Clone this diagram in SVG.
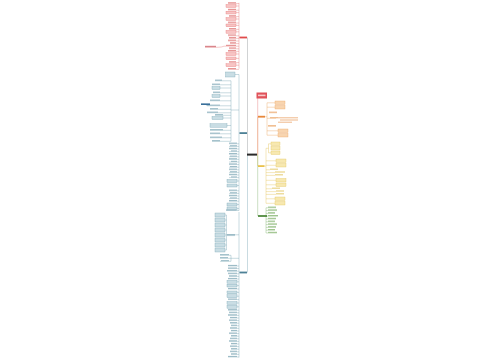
<svg xmlns="http://www.w3.org/2000/svg" width="500" height="360" viewBox="0 0 500 360">
<style>
.rb{fill:#f7c4c4;stroke:#e57373;stroke-width:.35}
.rs{fill:#e69696}
.tb{fill:#c9dde4;stroke:#76a3b2;stroke-width:.35}
.ts{fill:#9dbcc7}
.ob{fill:#f8d5b0;stroke:#eba25e;stroke-width:.35}
.os{fill:#efb88a}
.yb{fill:#f7e8b0;stroke:#e3c256;stroke-width:.35}
.ys{fill:#e9d488}
.gs{fill:#9fc48e}
.c{fill:none;stroke-width:.4}
.cr{stroke:#e57373}.ct{stroke:#76a3b2}.co{stroke:#eba25e}.cy{stroke:#e3c256}.cg{stroke:#7fb06c}.ck{stroke:#8a8f92}
</style>
<rect width="500" height="360" fill="#ffffff"/>
<g id="connectors">
  <path class="c ck" d="M247,154.6 H247.5 V37.5"/>
  <path class="c ct" d="M247.5,154.6 V272.5"/>
  <path class="c cr" d="M257,154.6 H257.7 V95.5"/>
  <path class="c co" d="M257.7,154.6 V116.7"/>
  <path class="c cy" d="M257.7,154.6 V166.1"/>
  <path class="c cg" d="M257.7,154.6 V216"/>
  <path class="c cr" d="M239.5,37.5 H239 M239,2.8 V68.6"/>
  <path class="c cr" d="M228,3.6 H239 M236,6 H239 M228,10.2 H239 M236,12.6 H239 M229,16.6 H239 M236,19 H239 M228,23 H239 M236,25.4 H239 M229,29.4 H239 M236,31.8 H239 M228,35.8 H239 M229,38.4 H239 M228,41 H239 M230,43.6 H239 M226,46.2 H239 M229,48.8 H239 M228,51.4 H239 M236,54 H239 M236,58.4 H239 M229,62.6 H239 M236,65.2 H239 M228,69.4 H239"/>
  <path class="c cr" d="M205,47.3 H217 Q222,47.3 224,46.2 H226"/>
  <path class="c ct" d="M239.5,133.1 H239 M239,74.5 V210.5"/>
  <path class="c ct" d="M235,74.5 H239"/>
  <path class="c ct" d="M231,80.8 V141.3 M231,110 H239"/>
  <path class="c ct" d="M215,80.8 H231 M212,84.8 H231 M220,88 H231 M213,92.8 H231 M220,96 H231 M210,100.8 H231 M207,105.8 H231 M210,109.3 H231 M207,112.8 H231 M215,115.3 H231 M223,118 H231 M227,125.5 H231 M210,130.3 H231 M210,133.8 H231 M210,137.8 H231 M212,141.3 H231"/>
  <path class="c ct" d="M201,104.2 H204 Q206,104.2 207,105.8"/>
  <path class="c ct" d="M229,143.8 H239 M229,146.4 H239 M229,149 H239 M229,151.6 H239 M229,154.2 H239 M229,156.8 H239 M229,159.4 H239 M229,162 H239 M229,164.6 H239 M229,167.2 H239 M229,169.8 H239 M229,172.4 H239 M229,175 H239 M229,177.6 H239 M237,181 H239 M237,185.5 H239 M229,190.8 H239 M229,193.4 H239 M229,196 H239 M229,198.6 H239 M229,201.2 H239 M237,204.5 H239 M237,208.5 H239 M226,210.5 H239"/>
  <path class="c ct" d="M239.5,272.5 H239 M239,212 V357.5"/>
  <path class="c ct" d="M225,215 H226.5 M225,220 H226.5 M225,225 H226.5 M225,230 H226.5 M225,235 H226.5 M225,240 H226.5 M225,245 H226.5 M225,250 H226.5 M226.5,215 V250 M226.5,234.8 H239 M227,235.6 H235"/>
  <path class="c ct" d="M220,255.3 H231 M220,258.3 H231 M220,261.3 H231 M231,255.3 V261.3 M231,258.3 H239"/>
  <path class="c ct" d="M228,266 H239 M228,268.6 H239 M227,271.2 H239 M228,273.8 H239 M229,276.4 H239 M228,279 H239 M237,281.8 H239 M237,285.6 H239 M228,289 H239 M237,292.4 H239 M237,296.2 H239 M228,299.6 H239 M237,303 H239 M237,306.8 H239 M228,310.2 H239 M229,312.8 H239 M228,315.4 H239 M230,318 H239 M229,320.6 H239 M230,323.2 H239 M231,325.8 H239 M230,328.4 H239 M231,331 H239 M229,333.6 H239 M231,336.2 H239 M230,338.8 H239 M229,341.4 H239 M231,344 H239 M230,346.6 H239 M231,349.2 H239 M230,351.8 H239 M231,354.4 H239 M228,357 H239"/>
  <path class="c co" d="M265,116.7 H267 M267,102.8 V135.2"/>
  <path class="c co" d="M267,102.8 H275 M267,107.2 H275 M269,112.8 H277 M267,118.3 H276 M268,126.3 H276 M267,130.8 H278 M267,135.2 H278"/>
  <path class="c cy" d="M264.5,166.1 H266 M266,148.3 V203.3"/>
  <path class="c cy" d="M266,148.3 H268.5 M268.5,143.8 V152.8 M268.5,143.8 H271 M268.5,152.8 H271"/>
  <path class="c cy" d="M266,160.8 H276 M266,165.3 H276 M270,169.8 H266 M266,172.6 H275 M266,175.4 H275 M266,180.3 H276 M266,184.8 H276 M266,188.8 H272 M266,191.6 H276 M266,194.4 H276 M266,198.8 H275 M266,203.3 H275"/>
  <path class="c cg" d="M267,216 H266 M266,207.8 V233"/>
  <path class="c cg" d="M266,207.8 H276 M266,210.6 H277 M266,213.4 H275 M266,216.2 H278 M266,219 H276 M266,221.8 H275 M266,224.6 H277 M266,227.4 H276 M266,230.2 H275 M266,233 H277"/>
</g>
<g id="root"><rect x="247" y="153.6" width="10" height="2" fill="#2a2a2a"/></g>
<g id="title"><rect x="256.5" y="92.5" width="10.5" height="6" fill="#e0525a"/><rect x="258" y="94.6" width="7.5" height="1.6" fill="#f8c9c9"/></g>
<g id="branch-red">
  <rect x="239.5" y="36.6" width="7.5" height="1.8" fill="#e04b4b"/>
  <rect class="rs" x="228" y="2.2" width="8" height="1.2"/>
  <rect class="rb" x="226" y="4.6" width="10" height="2.8"/>
  <rect class="rs" x="228" y="8.8" width="8" height="1.2"/>
  <rect class="rb" x="226" y="11.2" width="10" height="2.8"/>
  <rect class="rs" x="229" y="15.2" width="7" height="1.2"/>
  <rect class="rb" x="226" y="17.6" width="10" height="2.8"/>
  <rect class="rs" x="228" y="21.6" width="8" height="1.2"/>
  <rect class="rb" x="226" y="24" width="10" height="2.8"/>
  <rect class="rs" x="229" y="28" width="7" height="1.2"/>
  <rect class="rb" x="226" y="30.4" width="10" height="2.8"/>
  <rect class="rs" x="228" y="34.4" width="8" height="1.2"/>
  <rect class="rs" x="229" y="37" width="7" height="1.2"/>
  <rect class="rs" x="228" y="39.6" width="8" height="1.2"/>
  <rect class="rs" x="230" y="42.2" width="6" height="1.2"/>
  <rect class="rs" x="226" y="44.8" width="10" height="1.2"/>
  <rect class="rs" x="229" y="47.4" width="7" height="1.2"/>
  <rect class="rs" x="228" y="50" width="8" height="1.2"/>
  <rect class="rb" x="226" y="52.6" width="10" height="2.8"/>
  <rect class="rb" x="226" y="57" width="10" height="2.8"/>
  <rect class="rs" x="229" y="61.2" width="7" height="1.2"/>
  <rect class="rb" x="226" y="63.8" width="10" height="2.8"/>
  <rect class="rs" x="228" y="68" width="8" height="1.2"/>
  <rect x="205" y="45.8" width="11" height="1.4" fill="#d9868c"/>
</g>
<g id="branch-teal-upper">
  <rect x="239.5" y="132.2" width="7.5" height="1.8" fill="#4d8196"/>
  <rect class="tb" x="225.5" y="72" width="9.5" height="5"/>
  <rect class="ts" x="215" y="79.6" width="7" height="1.2"/>
  <rect class="ts" x="212" y="83.6" width="8" height="1.2"/>
  <rect class="tb" x="212" y="86.5" width="8" height="3"/>
  <rect class="ts" x="213" y="91.6" width="7" height="1.2"/>
  <rect class="tb" x="212" y="94.5" width="8" height="3"/>
  <rect class="ts" x="210" y="99.6" width="10" height="1.2"/>
  <rect class="ts" x="207" y="104.6" width="13" height="1.2"/>
  <rect class="ts" x="210" y="108.1" width="8" height="1.2"/>
  <rect class="ts" x="207" y="111.6" width="11" height="1.2"/>
  <rect class="ts" x="215" y="114.1" width="8" height="1.2"/>
  <rect class="tb" x="212" y="116.5" width="11" height="3"/>
  <rect class="tb" x="210" y="123.8" width="17" height="3.4"/>
  <rect class="ts" x="210" y="129.1" width="13" height="1.2"/>
  <rect class="ts" x="210" y="132.6" width="10" height="1.2"/>
  <rect class="ts" x="210" y="136.6" width="12" height="1.2"/>
  <rect class="ts" x="212" y="140.1" width="8" height="1.2"/>
  <rect x="201" y="103.4" width="9" height="1.6" fill="#3a6f9a"/>
  <rect class="ts" x="229" y="142.6" width="8" height="1.1"/>
  <rect class="ts" x="230" y="145.2" width="7" height="1.1"/>
  <rect class="ts" x="229" y="147.8" width="8" height="1.1"/>
  <rect class="ts" x="231" y="150.4" width="6" height="1.1"/>
  <rect class="ts" x="229" y="153" width="8" height="1.1"/>
  <rect class="ts" x="230" y="155.6" width="7" height="1.1"/>
  <rect class="ts" x="229" y="158.2" width="8" height="1.1"/>
  <rect class="ts" x="231" y="160.8" width="6" height="1.1"/>
  <rect class="ts" x="229" y="163.4" width="8" height="1.1"/>
  <rect class="ts" x="230" y="166" width="7" height="1.1"/>
  <rect class="ts" x="229" y="168.6" width="8" height="1.1"/>
  <rect class="ts" x="230" y="171.2" width="7" height="1.1"/>
  <rect class="ts" x="229" y="173.8" width="8" height="1.1"/>
  <rect class="ts" x="231" y="176.4" width="6" height="1.1"/>
  <rect class="tb" x="227" y="179.5" width="10" height="3"/>
  <rect class="tb" x="227" y="184" width="10" height="3"/>
  <rect class="ts" x="229" y="189.6" width="8" height="1.1"/>
  <rect class="ts" x="230" y="192.2" width="7" height="1.1"/>
  <rect class="ts" x="229" y="194.8" width="8" height="1.1"/>
  <rect class="ts" x="230" y="197.4" width="7" height="1.1"/>
  <rect class="ts" x="229" y="200" width="8" height="1.1"/>
  <rect class="tb" x="227" y="203" width="10" height="3"/>
  <rect class="tb" x="227" y="207" width="10" height="3"/>
  <rect class="ts" x="226" y="209.4" width="10" height="1.1"/>
</g>
<g id="branch-teal-lower">
  <rect x="239.5" y="271.6" width="7.5" height="1.8" fill="#4d8196"/>
  <rect class="tb" x="215" y="213" width="10" height="4"/>
  <rect class="tb" x="215" y="218" width="10" height="4"/>
  <rect class="tb" x="215" y="223" width="10" height="4"/>
  <rect class="tb" x="215" y="228" width="10" height="4"/>
  <rect class="tb" x="215" y="233" width="10" height="4"/>
  <rect class="tb" x="215" y="238" width="10" height="4"/>
  <rect class="tb" x="215" y="243" width="10" height="4"/>
  <rect class="tb" x="215" y="248" width="10" height="4"/>
  <rect class="ts" x="227" y="234" width="8" height="1.4"/>
  <rect class="ts" x="220" y="254.1" width="9" height="1.1"/>
  <rect class="ts" x="220" y="257.1" width="8" height="1.1"/>
  <rect class="ts" x="221" y="260.1" width="8" height="1.1"/>
  <rect class="ts" x="228" y="264.9" width="9" height="1.1"/>
  <rect class="ts" x="228" y="267.5" width="9" height="1.1"/>
  <rect class="ts" x="227" y="270.1" width="10" height="1.1"/>
  <rect class="ts" x="228" y="272.7" width="9" height="1.1"/>
  <rect class="ts" x="229" y="275.3" width="8" height="1.1"/>
  <rect class="ts" x="228" y="277.9" width="9" height="1.1"/>
  <rect class="tb" x="227" y="280.4" width="10" height="2.8"/>
  <rect class="tb" x="227" y="284.2" width="10" height="2.8"/>
  <rect class="ts" x="228" y="287.9" width="9" height="1.1"/>
  <rect class="tb" x="227" y="291" width="10" height="2.8"/>
  <rect class="tb" x="227" y="294.8" width="10" height="2.8"/>
  <rect class="ts" x="228" y="298.5" width="9" height="1.1"/>
  <rect class="tb" x="227" y="301.6" width="10" height="2.8"/>
  <rect class="tb" x="227" y="305.4" width="10" height="2.8"/>
  <rect class="ts" x="228" y="309.1" width="9" height="1.1"/>
  <rect class="ts" x="229" y="311.7" width="8" height="1.1"/>
  <rect class="ts" x="228" y="314.3" width="9" height="1.1"/>
  <rect class="ts" x="230" y="316.9" width="7" height="1.1"/>
  <rect class="ts" x="229" y="319.5" width="8" height="1.1"/>
  <rect class="ts" x="230" y="322.1" width="7" height="1.1"/>
  <rect class="ts" x="231" y="324.7" width="6" height="1.1"/>
  <rect class="ts" x="230" y="327.3" width="7" height="1.1"/>
  <rect class="ts" x="231" y="329.9" width="6" height="1.1"/>
  <rect class="ts" x="229" y="332.5" width="8" height="1.1"/>
  <rect class="ts" x="231" y="335.1" width="6" height="1.1"/>
  <rect class="ts" x="230" y="337.7" width="7" height="1.1"/>
  <rect class="ts" x="229" y="340.3" width="8" height="1.1"/>
  <rect class="ts" x="231" y="342.9" width="6" height="1.1"/>
  <rect class="ts" x="230" y="345.5" width="7" height="1.1"/>
  <rect class="ts" x="231" y="348.1" width="6" height="1.1"/>
  <rect class="ts" x="230" y="350.7" width="7" height="1.1"/>
  <rect class="ts" x="231" y="353.3" width="6" height="1.1"/>
  <rect class="ts" x="228" y="355.9" width="9" height="1.1"/>
</g>
<g id="branch-orange">
  <rect x="258" y="115.8" width="7" height="1.8" fill="#e8883a"/>
  <rect class="ob" x="275" y="101" width="10" height="3.5"/>
  <rect class="ob" x="275" y="105.5" width="10" height="3.5"/>
  <rect class="os" x="269" y="111.6" width="8" height="1.2"/>
  <rect class="os" x="270" y="117.1" width="8" height="1.2"/>
  <rect class="os" x="278" y="117.3" width="20" height="1"/>
  <rect class="os" x="280" y="119.5" width="18" height="1"/>
  <rect class="os" x="278" y="121.7" width="14" height="1"/>
  <rect class="os" x="268" y="125.1" width="8" height="1.2"/>
  <rect class="ob" x="278" y="129" width="10" height="3.5"/>
  <rect class="ob" x="278" y="133.5" width="10" height="3.5"/>
</g>
<g id="branch-yellow">
  <rect x="258" y="165.2" width="6.5" height="1.8" fill="#e9c14a"/>
  <rect class="yb" x="271" y="142" width="9" height="3.5"/>
  <rect class="yb" x="271" y="146.5" width="9" height="3.5"/>
  <rect class="yb" x="271" y="151" width="9" height="3.5"/>
  <rect class="yb" x="276" y="159" width="10" height="3.5"/>
  <rect class="yb" x="276" y="163.5" width="10" height="3.5"/>
  <rect class="ys" x="270" y="168.6" width="8" height="1.2"/>
  <rect class="ys" x="275" y="171.4" width="10" height="1.2"/>
  <rect class="ys" x="275" y="174.2" width="8" height="1.2"/>
  <rect class="yb" x="276" y="178.5" width="10" height="3.5"/>
  <rect class="yb" x="276" y="183" width="10" height="3.5"/>
  <rect class="ys" x="272" y="187.6" width="8" height="1.2"/>
  <rect class="ys" x="276" y="190.4" width="8" height="1.2"/>
  <rect class="ys" x="276" y="193.2" width="8" height="1.2"/>
  <rect class="yb" x="275" y="197" width="10" height="3.5"/>
  <rect class="yb" x="275" y="201.5" width="10" height="3.5"/>
</g>
<g id="branch-green">
  <rect x="258" y="215.1" width="9" height="1.8" fill="#4f8a3c"/>
  <rect class="gs" x="268" y="206.6" width="8" height="1.1"/>
  <rect class="gs" x="268" y="209.4" width="9" height="1.1"/>
  <rect class="gs" x="268" y="212.2" width="7" height="1.1"/>
  <rect class="gs" x="268" y="215" width="10" height="1.1"/>
  <rect class="gs" x="268" y="217.8" width="8" height="1.1"/>
  <rect class="gs" x="268" y="220.6" width="7" height="1.1"/>
  <rect class="gs" x="268" y="223.4" width="9" height="1.1"/>
  <rect class="gs" x="268" y="226.2" width="8" height="1.1"/>
  <rect class="gs" x="268" y="229" width="7" height="1.1"/>
  <rect class="gs" x="268" y="231.8" width="9" height="1.1"/>
</g>
</svg>
